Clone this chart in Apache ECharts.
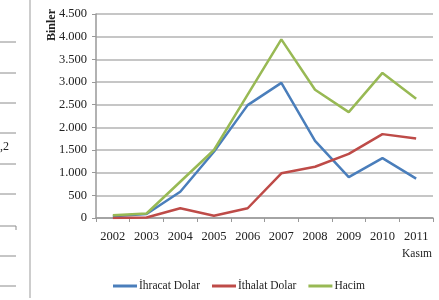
<!DOCTYPE html>
<html>
<head>
<meta charset="utf-8">
<script src="https://cdn.jsdelivr.net/npm/echarts@6/dist/echarts.min.js"></script>
<style>
  html, body { margin: 0; padding: 0; background: #fff; }
  #chart { width: 439px; height: 300px; }
</style>
</head>
<body>
<div id="chart"></div>
<script>
// yıllar
const years = ['2002', '2003', '2004', '2005', '2006', '2007', '2008', '2009', '2010', '2011'];
// Binler
const ihracat = [40, 90, 580, 1460, 2490, 2980, 1700, 900, 1320, 870];
const ithalat = [0, 10, 215, 50, 215, 985, 1130, 1415, 1850, 1755];
const hacim = [60, 100, 800, 1500, 2720, 3940, 2830, 2335, 3200, 2630];
const yTicks = ['0', '500', '1.000', '1.500', '2.000', '2.500', '3.000', '3.500', '4.000', '4.500'];

const serif = '"Liberation Serif", "DejaVu Serif", serif';
const chart = echarts.init(document.getElementById('chart'));

// soldaki tablonun kesik çizgileri
const leftLines = [42, 73, 103, 133, 164, 194, 226, 256, 286].map((y) => ({
  type: 'line',
  shape: { x1: 0, y1: y, x2: 16, y2: y },
  style: { stroke: '#8c8c8c', lineWidth: 1 },
}));

const option = {
  animation: false,
  backgroundColor: '#fff',
  grid: { left: 96, right: 6, top: 14, bottom: 82 },
  legend: {
    left: 108,
    top: 275,
    itemWidth: 24,
    itemHeight: 3,
    itemGap: 12,
    icon: 'rect',
    textStyle: { fontFamily: serif, fontSize: 11.5, color: '#222', padding: [0, 0, 0, -3] },
    data: ['İhracat Dolar', 'İthalat Dolar', 'Hacim'],
  },
  xAxis: {
    type: 'category',
    data: years,
    boundaryGap: true,
    axisLine: { lineStyle: { color: '#999', width: 1.5 } },
    axisTick: { show: true, length: 4, lineStyle: { color: '#999' } },
    axisLabel: { fontFamily: serif, fontSize: 12.5, color: '#222', margin: 12 },
  },
  yAxis: {
    type: 'value',
    min: 0,
    max: 4500,
    interval: 500,
    axisLine: { show: true, lineStyle: { color: '#999', width: 1.5 } },
    axisTick: { show: true, length: 4, lineStyle: { color: '#999' } },
    splitLine: { lineStyle: { color: '#b3b3b3', width: 1.5 } },
    axisLabel: {
      fontFamily: serif, fontSize: 12.5, color: '#222', margin: 9,
      formatter: (v) => yTicks[Math.round(v / 500)],
    },
  },
  graphic: [
    ...leftLines,
    { type: 'line', shape: { x1: 16, y1: 226, x2: 16, y2: 230 }, style: { stroke: '#8c8c8c', lineWidth: 1 } },
    { type: 'line', shape: { x1: 30, y1: 0, x2: 30, y2: 298 }, style: { stroke: '#bdbdbd', lineWidth: 1.5 } },
    { type: 'text', left: 0, top: 141, style: { text: ',2', font: '12px ' + serif, fill: '#222' } },
    { type: 'text', left: 402, top: 248, style: { text: 'Kasım', font: '11.5px ' + serif, fill: '#222' } },
    {
      type: 'text', x: 52, y: 25, rotation: Math.PI / 2,
      style: { text: 'Binler', font: 'bold 12px ' + serif, fill: '#222', align: 'center', verticalAlign: 'middle' },
    },
  ],
  series: [
    { name: 'İhracat Dolar', type: 'line', data: ihracat, symbol: 'none', lineStyle: { color: '#4a7ebb', width: 2.5 }, itemStyle: { color: '#4a7ebb' } },
    { name: 'İthalat Dolar', type: 'line', data: ithalat, symbol: 'none', lineStyle: { color: '#be4b48', width: 2.5 }, itemStyle: { color: '#be4b48' } },
    { name: 'Hacim', type: 'line', data: hacim, symbol: 'none', lineStyle: { color: '#98b954', width: 2.5 }, itemStyle: { color: '#98b954' } },
  ],
};
chart.setOption(option);
</script>
</body>
</html>
